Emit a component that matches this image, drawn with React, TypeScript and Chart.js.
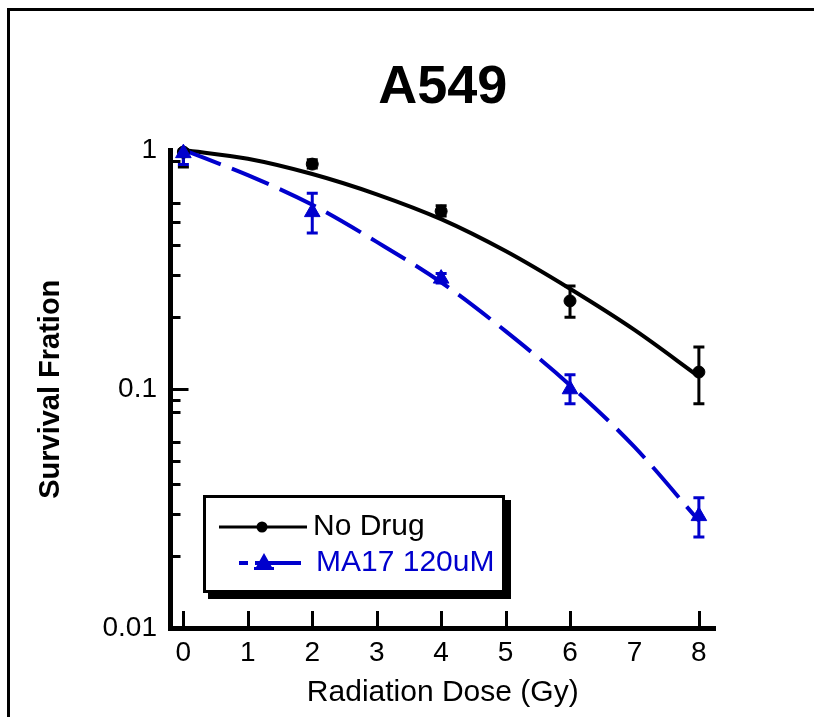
import React, { useEffect, useRef } from "react";
import { Chart, registerables } from "chart.js";

Chart.register(...registerables);

// ---------- data ----------
const doses = [0, 2, 4, 6, 8];
const noDrugMean = [0.98, 0.873, 0.555, 0.234, 0.118];
const noDrugLow = [0.85, 0.84, 0.53, 0.2, 0.087];
const noDrugHigh = [1.0, 0.91, 0.585, 0.27, 0.15];

const ma17Mean = [0.97, 0.55, 0.29, 0.1, 0.0295];
const ma17Low = [0.87, 0.45, 0.278, 0.087, 0.0241];
const ma17High = [1.0, 0.66, 0.305, 0.115, 0.0352];

const fitDoses = [0, 1, 2, 3, 4, 5, 6, 7, 8];
const noDrugFit = [1.0, 0.92, 0.794, 0.653, 0.514, 0.378, 0.263, 0.177, 0.113];
const ma17Fit = [1.0, 0.785, 0.59, 0.413, 0.28, 0.175, 0.104, 0.0574, 0.0282];

const xTickValues = [0, 1, 2, 3, 4, 5, 6, 7, 8];
const xTickMarks = [0, 1, 2, 3, 4, 5, 6, 8];
const yTickValues = [1, 0.1, 0.01];
const yTickLabels = ["1", "0.1", "0.01"];
const yMajorMarks = [0.1];
const yMinorMarks = [0.9, 0.6, 0.5, 0.4, 0.3, 0.2, 0.09, 0.08, 0.06, 0.05, 0.04, 0.03, 0.02];

const seriesNames = ["No Drug", "MA17 120uM"];
const BLACK = "#000000";
const BLUE = "#0000cd";
const FONT = "'Liberation Sans', Arial, Helvetica, sans-serif";

const toPts = (xs: number[], ys: number[]) => xs.map((x, i) => ({ x, y: ys[i] }));

const overlayPlugin = {
  id: "overlay",
  beforeDatasetsDraw(chart: any) {
    const { ctx, scales } = chart;
    const xs = scales.x;
    const ys = scales.y;
    chart.data.datasets.forEach((ds: any) => {
      if (!ds.errLow) return;
      ctx.save();
      ctx.strokeStyle = ds.borderColor;
      ctx.lineWidth = 3;
      ds.data.forEach((p: any, i: number) => {
        const px = xs.getPixelForValue(p.x);
        const lo = ys.getPixelForValue(ds.errLow[i]);
        const hi = ys.getPixelForValue(ds.errHigh[i]);
        ctx.beginPath();
        ctx.moveTo(px, lo);
        ctx.lineTo(px, hi);
        ctx.moveTo(px - 5.5, lo);
        ctx.lineTo(px + 5.5, lo);
        ctx.moveTo(px - 5.5, hi);
        ctx.lineTo(px + 5.5, hi);
        ctx.stroke();
      });
      ctx.restore();
    });
  },
  afterDraw(chart: any) {
    const { ctx, scales, chartArea } = chart;
    const xs = scales.x;
    const ys = scales.y;
    ctx.save();
    ctx.strokeStyle = BLACK;
    ctx.lineWidth = 3;
    ctx.beginPath();
    // inward x tick marks
    xTickMarks.forEach((v) => {
      const px = Math.round(xs.getPixelForValue(v)) + 0.5;
      ctx.moveTo(px, chartArea.bottom - 2.5);
      ctx.lineTo(px, chartArea.bottom - 17.5);
    });
    // inward y tick marks
    yMajorMarks.forEach((v) => {
      const py = Math.round(ys.getPixelForValue(v)) + 0.5;
      ctx.moveTo(chartArea.left + 2.5, py);
      ctx.lineTo(chartArea.left + 18, py);
    });
    yMinorMarks.forEach((v) => {
      const py = Math.round(ys.getPixelForValue(v)) + 0.5;
      ctx.moveTo(chartArea.left + 2.5, py);
      ctx.lineTo(chartArea.left + 10, py);
    });
    ctx.stroke();

    // legend box
    const bx = chartArea.left + 32.5;
    const bw = 302;
    const bh = 98;
    const by = chartArea.bottom - 35.5 - bh;
    ctx.fillStyle = BLACK;
    ctx.fillRect(bx + 5, by + 5, bw + 1, bh + 1);
    ctx.fillStyle = "#ffffff";
    ctx.fillRect(bx, by, bw, bh);
    ctx.strokeStyle = BLACK;
    ctx.lineWidth = 3;
    ctx.strokeRect(bx + 1.5, by + 1.5, bw - 3, bh - 3);

    // entry 1
    const y1 = by + 32;
    ctx.lineWidth = 3;
    ctx.beginPath();
    ctx.moveTo(bx + 16, y1);
    ctx.lineTo(bx + 104, y1);
    ctx.stroke();
    ctx.fillStyle = BLACK;
    ctx.beginPath();
    ctx.arc(bx + 59, y1, 5.5, 0, Math.PI * 2);
    ctx.fill();
    ctx.font = `30px ${FONT}`;
    ctx.textBaseline = "middle";
    ctx.textAlign = "left";
    ctx.fillText(seriesNames[0], bx + 110, y1);

    // entry 2
    const y2 = by + 68;
    ctx.strokeStyle = BLUE;
    ctx.lineWidth = 4;
    ctx.beginPath();
    ctx.moveTo(bx + 36, y2);
    ctx.lineTo(bx + 45, y2);
    ctx.moveTo(bx + 52, y2);
    ctx.lineTo(bx + 98, y2);
    ctx.stroke();
    ctx.fillStyle = BLUE;
    const tx = bx + 61;
    ctx.beginPath();
    ctx.moveTo(tx, y2 - 10);
    ctx.lineTo(tx + 9, y2 + 6);
    ctx.lineTo(tx - 9, y2 + 6);
    ctx.closePath();
    ctx.fill();
    ctx.fillRect(tx - 10, y2 + 4, 20, 3);
    ctx.fillText(seriesNames[1], bx + 113, y2);
    ctx.restore();
  },
};

export default function App() {
  const ref = useRef<HTMLCanvasElement>(null);

  useEffect(() => {
    const chart = new Chart(ref.current as HTMLCanvasElement, {
      type: "scatter",
      data: {
        datasets: [
          {
            label: seriesNames[0],
            data: toPts(doses, noDrugMean),
            pointStyle: "circle",
            pointRadius: 6,
            backgroundColor: BLACK,
            borderColor: BLACK,
            borderWidth: 1,
            errLow: noDrugLow,
            errHigh: noDrugHigh,
            clip: false,
            order: 1,
          } as any,
          {
            label: seriesNames[1],
            data: toPts(doses, ma17Mean),
            pointStyle: "triangle",
            pointRadius: 9,
            backgroundColor: BLUE,
            borderColor: BLUE,
            borderWidth: 1,
            errLow: ma17Low,
            errHigh: ma17High,
            clip: false,
            order: 0,
          } as any,
          {
            label: seriesNames[0] + " fit",
            data: toPts(fitDoses, noDrugFit),
            showLine: true,
            pointRadius: 0,
            borderColor: BLACK,
            borderWidth: 4,
            cubicInterpolationMode: "monotone",
            clip: false,
            order: 3,
          } as any,
          {
            label: seriesNames[1] + " fit",
            data: toPts(fitDoses, ma17Fit),
            showLine: true,
            pointRadius: 0,
            borderColor: BLUE,
            borderWidth: 4,
            borderDash: [40, 12],
            cubicInterpolationMode: "monotone",
            clip: false,
            order: 2,
          } as any,
        ],
      },
      options: {
        animation: false,
        responsive: false,
        layout: { padding: { left: 0, right: 99, top: 0, bottom: 0 } },
        plugins: {
          legend: { display: false },
          tooltip: { enabled: false },
          title: {
            display: true,
            text: "A549",
            fullSize: false,
            color: BLACK,
            font: { family: FONT, size: 54, weight: "bold" },
            padding: { top: 56, bottom: 29.2 },
          },
        },
        scales: {
          x: {
            type: "linear",
            min: -0.2,
            max: 8.25,
            afterBuildTicks: (s: any) => {
              s.ticks = xTickValues.map((v) => ({ value: v }));
            },
            afterFit: (s: any) => {
              s.height = 88.5;
            },
            ticks: {
              autoSkip: false,
              maxRotation: 0,
              padding: 8,
              color: BLACK,
              font: { family: FONT, size: 28 },
              callback: (v: any) => String(v),
            },
            grid: { display: false, drawTicks: false },
            border: { display: true, color: BLACK, width: 5 },
            title: {
              display: true,
              text: "Radiation Dose (Gy)",
              color: BLACK,
              font: { family: FONT, size: 30 },
              padding: { top: 0, bottom: 6 },
            },
          },
          y: {
            type: "logarithmic",
            min: 0.01,
            max: 1,
            afterBuildTicks: (s: any) => {
              s.ticks = yTickValues.map((v) => ({ value: v }));
            },
            afterFit: (s: any) => {
              s.width = 170.5;
            },
            ticks: {
              autoSkip: false,
              padding: 13.5,
              color: BLACK,
              font: { family: FONT, size: 28 },
              callback: (_v: any, i: number) => yTickLabels[i],
            },
            grid: { display: false, drawTicks: false },
            border: { display: true, color: BLACK, width: 5 },
            title: {
              display: true,
              text: "Survival Fration",
              color: BLACK,
              font: { family: FONT, size: 29, weight: "bold" },
              padding: { top: 34, bottom: 0 },
            },
          },
        },
      } as any,
      plugins: [overlayPlugin],
    });
    return () => chart.destroy();
  }, []);

  return (
    <div
      style={{
        position: "absolute",
        left: 0,
        top: 0,
        width: 814,
        height: 717,
        background: "#ffffff",
        overflow: "hidden",
      }}
    >
      <div
        style={{
          position: "absolute",
          left: 7,
          top: 8,
          width: 900,
          height: 900,
          borderTop: "3px solid #000",
          borderLeft: "3px solid #000",
        }}
      />
      <canvas
        ref={ref}
        width={814}
        height={717}
        style={{ position: "absolute", left: 0, top: 0, width: 814, height: 717 }}
      />
    </div>
  );
}
